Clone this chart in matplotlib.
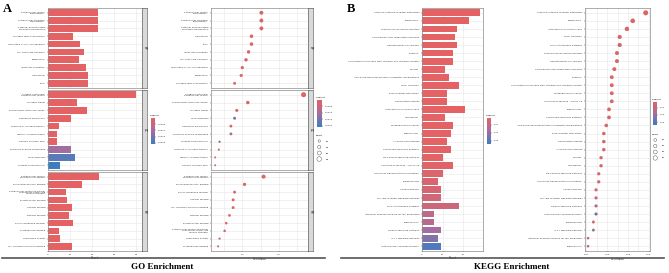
import numpy as np
import matplotlib.pyplot as plt
from matplotlib.colors import LinearSegmentedColormap, Normalize
from matplotlib.lines import Line2D

# ---------------- GO enrichment (facets top to bottom) ----------------
go_facets = ['BP', 'CC', 'MF']

bp_bar_terms = ['extracellular matrix\norganization', 'extracellular structure\norganization',
                'external encapsulating\nstructure organization', 'collagen fibril organization',
                'regulation of cell-cell adhesion', 'cell-substrate adhesion', 'ossification',
                'leukocyte migration', 'chemotaxis', 'taxis']
bp_bar_count = [45, 45, 45, 23, 29, 33, 28, 34, 36, 36]
bp_bar_padj = [1e-12, 1e-12, 1e-12, 2e-6, 5e-6, 8e-6, 1e-5, 2e-5, 3e-5, 3e-5]

cc_bar_terms = ['collagen-containing\nextracellular matrix', 'collagen trimer',
                'endoplasmic reticulum lumen', 'basement membrane', 'complex of collagen trimers',
                'fibrillar collagen trimer', 'banded collagen fibril', 'secretory granule membrane',
                'focal adhesion', 'platelet alpha granule']
cc_bar_count = [80, 26, 35, 21, 10, 8, 8, 21, 24, 11]
cc_bar_padj = [1e-30, 1e-9, 1e-8, 1e-7, 2e-6, 5e-6, 5e-6, 0.0011, 0.0018, 0.0021]

mf_bar_terms = ['extracellular matrix\nstructural constituent', 'glycosaminoglycan binding',
                'extracellular matrix structural\nconstituent conferring\ntensile strength',
                'growth factor binding', 'heparin binding', 'integrin binding',
                'sulfur compound binding', 'proteoglycan binding', 'chemokine activity',
                'cell adhesion molecule binding']
mf_bar_count = [46, 31, 16, 17, 22, 19, 23, 10, 11, 22]
mf_bar_padj = [1e-20, 1e-9, 1e-8, 2e-7, 3e-7, 5e-7, 8e-7, 2e-6, 3e-6, 4e-6]

bp_dot_terms = ['extracellular matrix\norganization', 'extracellular structure\norganization',
                'external encapsulating\nstructure organization', 'chemotaxis', 'taxis',
                'leukocyte migration', 'cell-substrate adhesion', 'regulation of cell-cell adhesion',
                'ossification', 'collagen fibril organization']
bp_dot_ratio = [0.152, 0.152, 0.152, 0.125, 0.125, 0.117, 0.110, 0.100, 0.097, 0.079]
bp_dot_count = [45, 45, 45, 36, 36, 34, 33, 29, 28, 23]
bp_dot_padj = [1e-12, 1e-12, 1e-12, 3e-5, 3e-5, 2e-5, 8e-6, 5e-6, 1e-5, 2e-6]

cc_dot_terms = ['collagen-containing\nextracellular matrix', 'endoplasmic reticulum lumen',
                'collagen trimer', 'focal adhesion', 'basement membrane',
                'secretory granule membrane', 'platelet alpha granule',
                'complex of collagen trimers', 'fibrillar collagen trimer', 'banded collagen fibril']
cc_dot_ratio = [0.267, 0.115, 0.085, 0.079, 0.069, 0.069, 0.038, 0.036, 0.026, 0.026]
cc_dot_count = [80, 35, 26, 24, 21, 21, 11, 10, 8, 8]
cc_dot_padj = [1e-30, 1e-8, 1e-9, 0.0018, 1e-7, 0.0011, 0.0021, 2e-6, 5e-6, 5e-6]

mf_dot_terms = ['extracellular matrix\nstructural constituent', 'glycosaminoglycan binding',
                'sulfur compound binding', 'heparin binding', 'cell adhesion molecule binding',
                'integrin binding', 'growth factor binding',
                'extracellular matrix structural\nconstituent conferring\ntensile strength',
                'chemokine activity', 'proteoglycan binding']
mf_dot_ratio = [0.158, 0.106, 0.079, 0.075, 0.075, 0.065, 0.056, 0.052, 0.038, 0.034]
mf_dot_count = [46, 31, 23, 22, 22, 19, 17, 16, 11, 10]
mf_dot_padj = [1e-20, 1e-9, 8e-7, 3e-7, 4e-6, 5e-7, 2e-7, 1e-8, 3e-6, 2e-6]

# ---------------- KEGG enrichment ----------------
kegg_bar_terms = ['Cytokine-cytokine receptor interaction', 'Phagosome',
                  'Staphylococcus aureus infection', 'Complement and coagulation cascades',
                  'Hematopoietic cell lineage', 'Pertussis',
                  'Viral protein interaction with cytokine and cytokine receptor', 'Malaria',
                  'AGE-RAGE signaling pathway in diabetic complications', 'Focal adhesion',
                  'ECM-receptor interaction', 'Rheumatoid arthritis', 'Cytoskeleton in muscle cells',
                  'Amoebiasis', 'Proteoglycans in cancer', 'Tuberculosis', 'Alcoholic liver disease',
                  'Chemokine signaling pathway', 'NF-kappa B signaling pathway',
                  'Coronavirus disease - COVID-19', 'Leukocyte transendothelial migration',
                  'Leishmaniasis', 'Chagas disease', 'Toll-like receptor signaling pathway',
                  'PI3K-Akt signaling pathway', 'Intestinal immune network for IgA production',
                  'Legionellosis', 'Relaxin signaling pathway', 'IL-17 signaling pathway',
                  'Cytosolic DNA-sensing pathway']
kegg_bar_count = [28, 23, 17, 16, 17, 15, 15, 11, 13, 18, 12, 12, 21, 11, 15,
                  14, 12, 14, 10, 15, 10, 8, 9, 9, 18, 6, 6, 9, 8, 9]
kegg_bar_padj = [1e-6, 2e-5, 1e-4, 2e-4, 3e-4, 4e-4, 5e-4, 6e-4, 7e-4, 8e-4,
                 9e-4, 1e-3, 1.2e-3, 1.4e-3, 1.6e-3, 1.8e-3, 2e-3, 2.3e-3, 2.6e-3, 3e-3,
                 4e-3, 5e-3, 6e-3, 7e-3, 8e-3, 0.012, 0.013, 0.018, 0.023, 0.031]

kegg_dot_terms = ['Cytokine-cytokine receptor interaction', 'Phagosome',
                  'Cytoskeleton in muscle cells', 'Focal adhesion', 'PI3K-Akt signaling pathway',
                  'Staphylococcus aureus infection', 'Hematopoietic cell lineage',
                  'Complement and coagulation cascades', 'Pertussis',
                  'Viral protein interaction with cytokine and cytokine receptor',
                  'Proteoglycans in cancer', 'Coronavirus disease - COVID-19', 'Tuberculosis',
                  'Chemokine signaling pathway',
                  'AGE-RAGE signaling pathway in diabetic complications',
                  'ECM-receptor interaction', 'Rheumatoid arthritis', 'Alcoholic liver disease',
                  'Malaria', 'Amoebiasis', 'NF-kappa B signaling pathway',
                  'Leukocyte transendothelial migration', 'Chagas disease',
                  'Toll-like receptor signaling pathway', 'Relaxin signaling pathway',
                  'Cytosolic DNA-sensing pathway', 'Leishmaniasis', 'IL-17 signaling pathway',
                  'Intestinal immune network for IgA production', 'Legionellosis']
kegg_dot_ratio = [0.0969, 0.0845, 0.0790, 0.0721, 0.0721, 0.0695, 0.0695, 0.0670, 0.0645, 0.0645,
                  0.0645, 0.0645, 0.0619, 0.0619, 0.0593, 0.0569, 0.0569, 0.0569, 0.0543, 0.0543,
                  0.0521, 0.0521, 0.0495, 0.0495, 0.0495, 0.0495, 0.0470, 0.0470, 0.0419, 0.0419]
kegg_dot_count = [28, 23, 21, 18, 18, 17, 17, 16, 15, 15, 15, 15, 14, 14, 13,
                  12, 12, 12, 11, 11, 10, 10, 9, 9, 9, 9, 8, 8, 6, 6]
kegg_dot_padj = [1e-6, 2e-5, 1.2e-3, 8e-4, 8e-3, 1e-4, 3e-4, 2e-4, 4e-4, 5e-4,
                 1.6e-3, 3e-3, 1.8e-3, 2.3e-3, 7e-4, 9e-4, 1e-3, 2e-3, 6e-4, 1.4e-3,
                 2.6e-3, 4e-3, 6e-3, 7e-3, 0.018, 0.031, 5e-3, 0.023, 0.012, 0.013]

# ---------------- figure ----------------
W, H = 669, 273
fig = plt.figure(figsize=(W / 100, H / 100), dpi=100)
cmap = LinearSegmentedColormap.from_list('rb', ['#E46264', '#A56E9E', '#3C7DC2'])
fs = 1.7
grid_c = '#EBEBEB'
border_c = '#8C8C8C'


def px_axes(x0, y0, x1, y1):
    return fig.add_axes([x0 / W, 1 - y1 / H, (x1 - x0) / W, (y1 - y0) / H])


def style(ax, xlim, xticks, minor=None, show_x=True):
    ax.set_xlim(xlim)
    ax.set_xticks(xticks)
    if minor is not None:
        ax.set_xticks(minor, minor=True)
    ax.grid(True, which='both', color=grid_c, lw=0.5)
    ax.set_axisbelow(True)
    for s in ax.spines.values():
        s.set_color(border_c)
        s.set_linewidth(0.5)
    ax.tick_params(axis='both', labelsize=fs, length=1, width=0.3, pad=1, colors='#333333')
    ax.tick_params(axis='both', which='minor', length=0)
    if not show_x:
        ax.tick_params(axis='x', labelbottom=False, length=0)


def strip(x0, y0, x1, y1, label):
    s = px_axes(x0, y0, x1, y1)
    s.set_facecolor('#D9D9D9')
    s.set_xticks([])
    s.set_yticks([])
    for sp in s.spines.values():
        sp.set_color('#444444')
        sp.set_linewidth(0.4)
    s.text(0.5, 0.5, label, rotation=-90, ha='center', va='center', fontsize=fs + 0.3,
           transform=s.transAxes)


def bar_panel(ax, terms, counts, padj, norm, xlim, xticks, show_x):
    y = np.arange(len(terms))
    ax.barh(y, counts, height=0.85, color=cmap(norm(padj)))
    ax.set_yticks(y)
    ax.set_yticklabels(terms, linespacing=0.9)
    ax.set_ylim(len(terms) - 0.4, -0.6)
    style(ax, xlim, xticks, show_x=show_x)


def size_of(c, cmin, cmax, smin, smax):
    return smin + (np.asarray(c, float) - cmin) / (cmax - cmin) * (smax - smin)


def dot_panel(ax, terms, ratio, counts, padj, norm, xlim, xticks, minor, sizes, show_x):
    y = np.arange(len(terms))
    ax.scatter(ratio, y, s=size_of(counts, *sizes), c=cmap(norm(padj)),
               edgecolors='#B04A4A', linewidths=0.2, zorder=3)
    ax.set_yticks(y)
    ax.set_yticklabels(terms, linespacing=0.9)
    ax.set_ylim(len(terms) - 0.4, -0.6)
    style(ax, xlim, xticks, minor, show_x=show_x)


def colorbar(x0, y0, x1, y1, norm, ticks, labels, title):
    cax = px_axes(x0, y0, x1, y1)
    grad = np.linspace(norm.vmin, norm.vmax, 100).reshape(-1, 1)
    cax.imshow(cmap(norm(grad)), aspect='auto', extent=[0, 1, norm.vmax, norm.vmin])
    cax.set_ylim(norm.vmax, norm.vmin)
    cax.set_xticks([])
    cax.yaxis.tick_right()
    cax.set_yticks(ticks)
    cax.set_yticklabels(labels)
    cax.tick_params(axis='y', labelsize=fs, length=0.8, width=0.3, pad=1, colors='#333333')
    for sp in cax.spines.values():
        sp.set_visible(False)
    fig.text((x0 - 1) / W, 1 - (y0 - 2) / H, title, fontsize=fs, ha='left', va='bottom')


def size_legend(x, y, values, sizes, title):
    fig.text((x - 4) / W, 1 - y / H, title, fontsize=fs, ha='left', va='bottom')
    lax = px_axes(x - 5, y + 2, x + 12, y + 26)
    lax.set_xlim(0, 1)
    lax.set_ylim(len(values) - 0.5, -0.5)
    lax.axis('off')
    for i, v in enumerate(values):
        lax.scatter([0.25], [i], s=size_of(v, *sizes), facecolors='none',
                    edgecolors='#444444', linewidths=0.3)
        lax.text(0.62, i, str(v), fontsize=fs, va='center')


# ---- panel A ----
go_norm = Normalize(0, 0.0021)
facet_y = [(8, 88), (90, 170), (172, 251)]
go_bars = [(bp_bar_terms, bp_bar_count, bp_bar_padj),
           (cc_bar_terms, cc_bar_count, cc_bar_padj),
           (mf_bar_terms, mf_bar_count, mf_bar_padj)]
go_dots = [(bp_dot_terms, bp_dot_ratio, bp_dot_count, bp_dot_padj),
           (cc_dot_terms, cc_dot_ratio, cc_dot_count, cc_dot_padj),
           (mf_dot_terms, mf_dot_ratio, mf_dot_count, mf_dot_padj)]
go_sizes = (8, 80, 1.2, 11)

for i, (y0, y1) in enumerate(facet_y):
    last = i == 2
    ax = px_axes(48, y0, 142, y1)
    bar_panel(ax, *go_bars[i], go_norm, (0, 85), [0, 20, 40, 60, 80], last)
    strip(142, y0, 147, y1, go_facets[i])
    if last:
        ax.set_xlabel('Count', fontsize=fs + 0.2, labelpad=1)

    ax = px_axes(211, y0, 308, y1)
    dot_panel(ax, *go_dots[i], go_norm, (0.0147, 0.279), [0.1, 0.2],
              [0.05, 0.15, 0.25], go_sizes, last)
    strip(308, y0, 313, y1, go_facets[i])
    if last:
        ax.set_xlabel('GeneRatio', fontsize=fs + 0.2, labelpad=1)

colorbar(151, 118, 155, 144, go_norm, [0.0005, 0.0010, 0.0015, 0.0020],
         ['0.0005', '0.0010', '0.0015', '0.0020'], 'p.adjust')
colorbar(317, 100, 322, 127, go_norm, [0.0005, 0.0010, 0.0015, 0.0020],
         ['0.0005', '0.0010', '0.0015', '0.0020'], 'p.adjust')
size_legend(320, 136, [20, 40, 60, 80], go_sizes, 'Count')

# ---- panel B ----
kegg_norm = Normalize(0.002, 0.034)
ax = px_axes(422, 8, 483, 251)
bar_panel(ax, kegg_bar_terms, kegg_bar_count, kegg_bar_padj, kegg_norm,
          (0, 29.6), [0, 10, 20], True)
ax.set_xlabel('Count', fontsize=fs + 0.2, labelpad=1)

kegg_sizes = (6, 28, 2.5, 11)
ax = px_axes(585, 8, 650, 251)
dot_panel(ax, kegg_dot_terms, kegg_dot_ratio, kegg_dot_count, kegg_dot_padj, kegg_norm,
          (0.039, 0.101), [0.04, 0.06, 0.08, 0.10], [0.05, 0.07, 0.09], kegg_sizes, True)
ax.set_xlabel('GeneRatio', fontsize=fs + 0.2, labelpad=1)

colorbar(487, 118, 491, 144, kegg_norm, [0.01, 0.02, 0.03], ['0.01', '0.02', '0.03'], 'p.adjust')
colorbar(653, 102, 657, 125, kegg_norm, [0.01, 0.02, 0.03], ['0.01', '0.02', '0.03'], 'p.adjust')
size_legend(656, 135, [10, 15, 20, 25], kegg_sizes, 'Count')

# ---- labels, rules, titles ----
serif = ['Liberation Serif', 'DejaVu Serif']
fig.text(3 / W, 1 - 3 / H, 'A', fontsize=9, fontweight='bold', family=serif, va='top')
fig.text(347 / W, 1 - 3 / H, 'B', fontsize=9, fontweight='bold', family=serif, va='top')
fig.add_artist(Line2D([2 / W, 325 / W], [1 - 258 / H] * 2, color='#555555', lw=1.2))
fig.add_artist(Line2D([341 / W, 664 / W], [1 - 258 / H] * 2, color='#555555', lw=1.2))
fig.text(162 / W, 1 - 267 / H, 'GO Enrichment', fontsize=6.5, fontweight='bold',
         family=serif, ha='center', va='center')
fig.text(512 / W, 1 - 267 / H, 'KEGG Enrichment', fontsize=6.5, fontweight='bold',
         family=serif, ha='center', va='center')

fig.savefig('out.png', dpi=100)
